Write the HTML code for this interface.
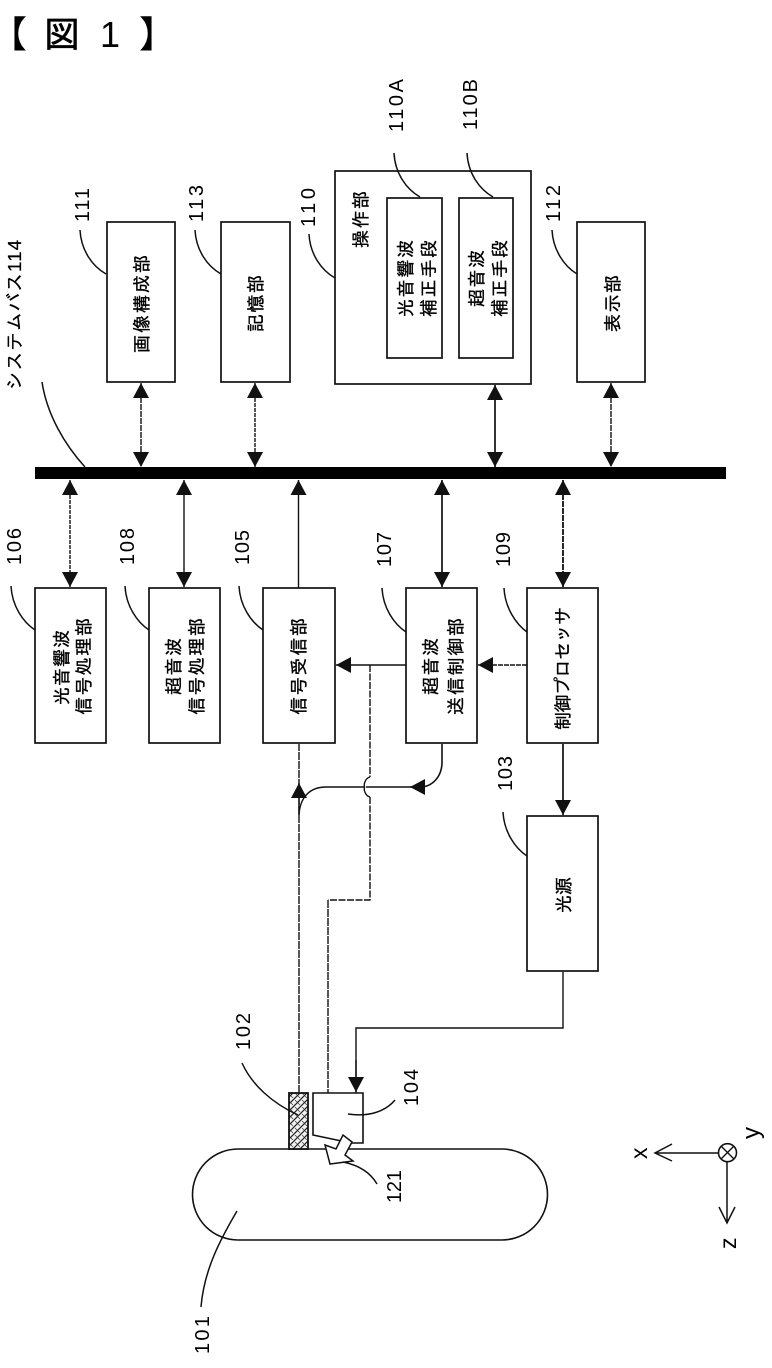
<!DOCTYPE html>
<html><head><meta charset="utf-8"><style>
html,body{margin:0;padding:0;background:#fff}
svg{display:block}
text{font-family:"Liberation Sans","IPAGothic","Noto Sans CJK JP",sans-serif;fill:#000}
.n{font-size:20px}
.n2{font-size:18.500px;stroke:#000;stroke-width:.25px}
.j{font-size:18px;stroke:#000;stroke-width:.35px}
.b{fill:#fff;stroke:#111;stroke-width:1.7}
.l{fill:none;stroke:#111;stroke-width:1.4}
.c{fill:none;stroke:#111;stroke-width:1.5}
</style></head><body>
<svg width="772" height="1368" viewBox="0 0 772 1368" xmlns="http://www.w3.org/2000/svg">
<defs>
<marker id="a" markerUnits="userSpaceOnUse" markerWidth="16" markerHeight="16" refX="15" refY="8" orient="auto-start-reverse"><path d="M0 0L15 8L0 16Z" fill="#111"/></marker>
<pattern id="h" patternUnits="userSpaceOnUse" width="7" height="7"><rect width="7" height="7" fill="#f2f2f2"/><path d="M0 7L7 0M-1 1L1 -1M6 8L8 6" stroke="#222" stroke-width="1.200"/><path d="M1 1L3 3M4 4L6 6" stroke="#444" stroke-width=".8"/></pattern>
</defs>

<!-- title -->
<text x="-10" y="47" style="font-size:36px;stroke:#000;stroke-width:2px">【</text>
<text x="44" y="47" style="font-size:36px;stroke:#000;stroke-width:.7px">図</text>
<text x="100" y="47" style="font-size:36px">1</text>
<text x="140" y="47" style="font-size:36px;stroke:#000;stroke-width:2px">】</text>

<!-- bus -->
<rect x="35" y="467" width="691" height="12" fill="#000"/>

<!-- boxes -->
<rect class="b" x="107" y="222" width="68" height="160"/>
<rect class="b" x="221" y="222" width="69" height="160"/>
<rect class="b" x="335" y="171" width="196" height="213"/>
<rect class="b" x="387" y="198" width="55" height="160"/>
<rect class="b" x="459" y="198" width="54" height="160"/>
<rect class="b" x="577" y="222" width="68" height="160"/>
<rect class="b" x="35" y="588" width="71" height="155"/>
<rect class="b" x="149" y="588" width="71" height="155"/>
<rect class="b" x="263" y="588" width="72" height="155"/>
<rect class="b" x="406" y="588" width="71" height="155"/>
<rect class="b" x="527" y="588" width="71" height="155"/>
<rect class="b" x="527" y="816" width="71" height="155"/>

<!-- bus connectors -->
<g class="l">
<line x1="141" y1="383" x2="141" y2="467" marker-start="url(#a)" marker-end="url(#a)" stroke-dasharray="6 1"/>
<line x1="255" y1="383" x2="255" y2="467" marker-start="url(#a)" marker-end="url(#a)" stroke-dasharray="4 1"/>
<line x1="495" y1="385" x2="495" y2="467" marker-start="url(#a)" marker-end="url(#a)" stroke-width="1.7"/>
<line x1="611" y1="383" x2="611" y2="467" marker-start="url(#a)" marker-end="url(#a)" stroke-dasharray="6 1"/>
<line x1="70" y1="480" x2="70" y2="587" marker-start="url(#a)" marker-end="url(#a)" stroke-dasharray="4 1"/>
<line x1="184" y1="480" x2="184" y2="587" marker-start="url(#a)" marker-end="url(#a)"/>
<line x1="298.500" y1="480" x2="298.500" y2="588" marker-start="url(#a)"/>
<line x1="442" y1="480" x2="442" y2="587" marker-start="url(#a)" marker-end="url(#a)" stroke-width="1.7"/>
<line x1="563" y1="480" x2="563" y2="587" marker-start="url(#a)" marker-end="url(#a)" stroke-width="1.8" stroke-dasharray="6 1"/>

<line x1="527" y1="665" x2="478" y2="665" marker-end="url(#a)" stroke-dasharray="5 1"/>
<line x1="406" y1="665" x2="336" y2="665" marker-end="url(#a)"/>
<line x1="563" y1="744" x2="563" y2="815" marker-end="url(#a)" stroke-width="1.7"/>

<path d="M299 1093V744" stroke-dasharray="8 1"/>
<line x1="299" y1="815" x2="299" y2="783" marker-end="url(#a)"/>
<path d="M299 815C300 797 310 787 326 787H365"/>
<path d="M365 787C363 788 365 796 370 797"/>
<path d="M365 787C363 786 365 778 370 777"/>
<path d="M366 787H422"/>
<line x1="422" y1="787" x2="410" y2="787" marker-end="url(#a)"/>
<path d="M442 744V762C442 777 432 787 420 787" stroke-width="1.6"/>

<path d="M370 665V777M370 797V900H328" stroke-dasharray="7 1.500"/>
<path d="M328 900V1093" stroke-dasharray="8 1"/>
<path d="M563 972V1028H356V1093"/>
<line x1="356" y1="1060" x2="356" y2="1092" marker-end="url(#a)"/>
</g>

<!-- bottom components -->
<rect x="192.500" y="1149" width="355" height="91" rx="45.500" ry="45.500" fill="none" stroke="#111" stroke-width="1.600"/>
<rect x="289" y="1093" width="19" height="56" fill="url(#h)" stroke="#111" stroke-width="1.800"/>
<path d="M313 1093H363V1143H351L313 1135Z" fill="#fff" stroke="#111" stroke-width="1.600"/>
<path d="M330 1164L325 1145L336 1149L343 1135L352 1142L345 1155L353 1161Z" fill="#fff" stroke="#111" stroke-width="1.500"/>

<!-- leaders -->
<g class="c">
<path d="M80 230C81 250 92 266 106 274"/>
<path d="M195 230C196 250 207 266 221 274"/>
<path d="M309 234C310 254 321 270 335 278"/>
<path d="M394 153C395 173 406 189 420 197"/>
<path d="M467 153C468 173 479 189 493 197"/>
<path d="M552 230C553 250 564 266 577 274"/>
<path d="M42 382C47 415 65 445 85 467"/>
<path d="M11 586C12 606 23 622 35 630"/>
<path d="M125 586C126 606 137 622 149 630"/>
<path d="M239 586C240 606 251 622 263 630"/>
<path d="M382 588C383 608 394 624 406 632"/>
<path d="M504 588C505 608 516 624 527 632"/>
<path d="M503 812C504 832 515 848 527 856"/>
<path d="M242 1063C252 1085 272 1103 298 1115"/>
<path d="M395 1100C385 1112 368 1117 348 1114"/>
<path d="M377 1184C370 1172 358 1165 343 1162"/>
<path d="M237 1211C220 1240 204 1270 201 1307"/>
</g>

<!-- numbers -->
<g class="n">
<text transform="translate(89,222) rotate(-90)" textLength="34">111</text>
<text transform="translate(203,222) rotate(-90)" textLength="37">113</text>
<text transform="translate(315,227) rotate(-90)" textLength="39">110</text>
<text transform="translate(403,132) rotate(-90)" textLength="53">110A</text>
<text transform="translate(477,130) rotate(-90)" textLength="51">110B</text>
<text transform="translate(560,222) rotate(-90)" textLength="37">112</text>
<text transform="translate(21,565) rotate(-90)" textLength="37">106</text>
<text transform="translate(134,565) rotate(-90)" textLength="37">108</text>
<text transform="translate(249,565) rotate(-90)" textLength="35">105</text>
<text transform="translate(391,567) rotate(-90)" textLength="35">107</text>
<text transform="translate(510,567) rotate(-90)" textLength="35">109</text>
<text transform="translate(512,791) rotate(-90)" textLength="35">103</text>
<text transform="translate(250,1050) rotate(-90)" textLength="37">102</text>
<text transform="translate(418,1106) rotate(-90)" textLength="37">104</text>
<text transform="translate(401,1203) rotate(-90)" textLength="33">121</text>
<text transform="translate(209,1354) rotate(-90)" textLength="38">101</text>
</g>
<text class="n2" transform="translate(21,390) rotate(-90)" textLength="150">システムバス114</text>

<!-- box text -->
<g class="j">
<text transform="translate(148,353) rotate(-90)" textLength="98">画像構成部</text>
<text transform="translate(262,332) rotate(-90)" textLength="57">記憶部</text>
<text transform="translate(367,248) rotate(-90)" textLength="57">操作部</text>
<text transform="translate(412,317) rotate(-90)" textLength="77">光音響波</text>
<text transform="translate(435,317) rotate(-90)" textLength="77">補正手段</text>
<text transform="translate(483,307) rotate(-90)" textLength="57">超音波</text>
<text transform="translate(506,317) rotate(-90)" textLength="77">補正手段</text>
<text transform="translate(619,332) rotate(-90)" textLength="57">表示部</text>
<text transform="translate(68,705) rotate(-90)" textLength="75">光音響波</text>
<text transform="translate(90,715) rotate(-90)" textLength="97">信号処理部</text>
<text transform="translate(180,695) rotate(-90)" textLength="57">超音波</text>
<text transform="translate(203,715) rotate(-90)" textLength="97">信号処理部</text>
<text transform="translate(305,715) rotate(-90)" textLength="97">信号受信部</text>
<text transform="translate(437,695) rotate(-90)" textLength="57">超音波</text>
<text transform="translate(462,715) rotate(-90)" textLength="97">送信制御部</text>
<text transform="translate(569,730) rotate(-90)" textLength="123">制御プロセッサ</text>
<text transform="translate(570,913) rotate(-90)" textLength="36">光源</text>
</g>

<!-- axes -->
<circle cx="727.500" cy="1152.700" r="9" fill="#fff" stroke="#111" stroke-width="1.600"/>
<path d="M721 1146L734 1159M734 1146L721 1159" stroke="#111" stroke-width="1.400"/>
<path d="M718 1153H655M672 1144L655 1153L672 1161M727 1162V1223M719 1207L727 1223L735 1207" fill="none" stroke="#111" stroke-width="1.500"/>
<text transform="translate(647,1159) rotate(-90)" style="font-size:23px">x</text>
<text transform="translate(759,1139) rotate(-90)" style="font-size:24px">y</text>
<text transform="translate(736,1249) rotate(-90)" style="font-size:23px">z</text>
</svg>
</body></html>
